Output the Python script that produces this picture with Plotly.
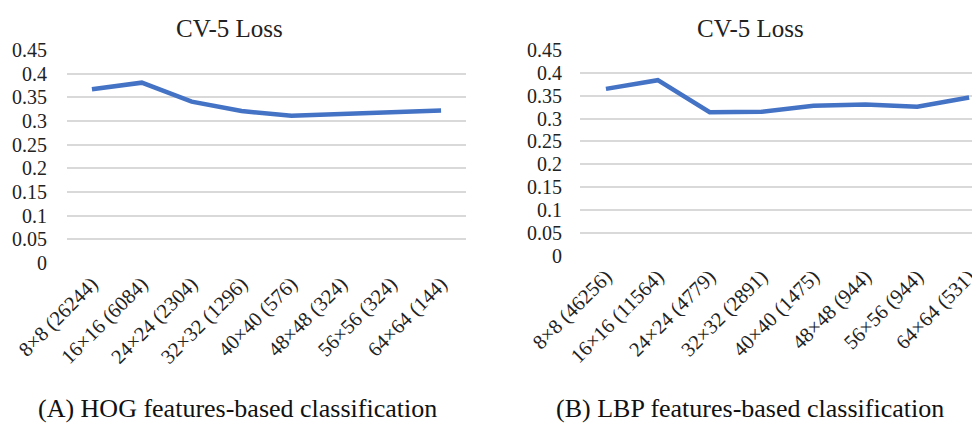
import plotly.graph_objects as go

hog_labels = ["8×8 (26244)", "16×16 (6084)", "24×24 (2304)", "32×32 (1296)",
              "40×40 (576)", "48×48 (324)", "56×56 (324)", "64×64 (144)"]
hog_loss = [0.367, 0.381, 0.341, 0.321, 0.311, 0.314, 0.319, 0.322]

lbp_labels = ["8×8 (46256)", "16×16 (11564)", "24×24 (4779)", "32×32 (2891)",
              "40×40 (1475)", "48×48 (944)", "56×56 (944)", "64×64 (531)"]
lbp_loss = [0.365, 0.384, 0.314, 0.315, 0.328, 0.331, 0.326, 0.346]

y_ticks = [0, 0.05, 0.1, 0.15, 0.2, 0.25, 0.3, 0.35, 0.4, 0.45]
y_tick_text = ["0", "0.05", "0.1", "0.15", "0.2", "0.25", "0.3", "0.35", "0.4", "0.45"]

FONT = "Liberation Serif, Times New Roman, serif"
BLUE = "#4472C4"
GRID = "#d9d9d9"

# page body has an 8px default margin; compensate so the picture lands at window coords
OFF = 8
W, H = 980 - OFF, 423 - OFF
fig = go.Figure()

fig.add_trace(go.Scatter(x=list(range(len(hog_labels))), y=hog_loss, mode="lines",
                         line=dict(color=BLUE, width=4.5), xaxis="x", yaxis="y",
                         showlegend=False))
fig.add_trace(go.Scatter(x=list(range(len(lbp_labels))), y=lbp_loss, mode="lines",
                         line=dict(color=BLUE, width=4.5), xaxis="x2", yaxis="y2",
                         showlegend=False))

def px_x(v):
    return (v - OFF) / W

def px_y(v):
    return (H - (v - OFF)) / H

common_x = dict(showgrid=False, zeroline=False, showline=False, ticks="",
                tickangle=-45, tickfont=dict(family=FONT, size=20.5, color="#222"),
                tickmode="array", automargin=False, ticklabelstandoff=4)
common_y = dict(range=[0, 0.45], tickvals=y_ticks, ticktext=y_tick_text,
                showgrid=True, gridcolor=GRID, gridwidth=1.5, zeroline=False,
                showline=False, ticks="", automargin=False,
                tickfont=dict(family=FONT, size=20, color="#222"))

def ann(text, x, y, size, color="#222"):
    return dict(text=text, x=px_x(x), y=px_y(y), xref="paper", yref="paper",
                xanchor="center", yanchor="middle", showarrow=False,
                font=dict(family=FONT, size=size, color=color))

fig.update_layout(
    width=W, height=H, autosize=False,
    margin=dict(l=0, r=0, t=0, b=0, pad=0),
    paper_bgcolor="white", plot_bgcolor="white",
    xaxis=dict(domain=[px_x(67), px_x(466)], range=[-0.5, 7.5],
               tickvals=list(range(8)), ticktext=hog_labels, anchor="y", **common_x),
    yaxis=dict(domain=[px_y(263), px_y(50)], anchor="x", ticklabelstandoff=19, **common_y),
    xaxis2=dict(domain=[px_x(580), 1.0], range=[-0.5, 7.21],
                tickvals=list(range(8)), ticktext=lbp_labels, anchor="y2", **common_x),
    yaxis2=dict(domain=[px_y(255.7), px_y(50)], anchor="x2", ticklabelstandoff=17, **common_y),
    annotations=[
        ann("CV-5 Loss", 229, 28, 25),
        ann("CV-5 Loss", 750, 28, 25),
        ann("(A) HOG features-based classification", 237, 408, 26, "#111"),
        ann("(B) LBP features-based classification", 750, 408, 26, "#111"),
    ],
)

fig.write_html("out.html")
